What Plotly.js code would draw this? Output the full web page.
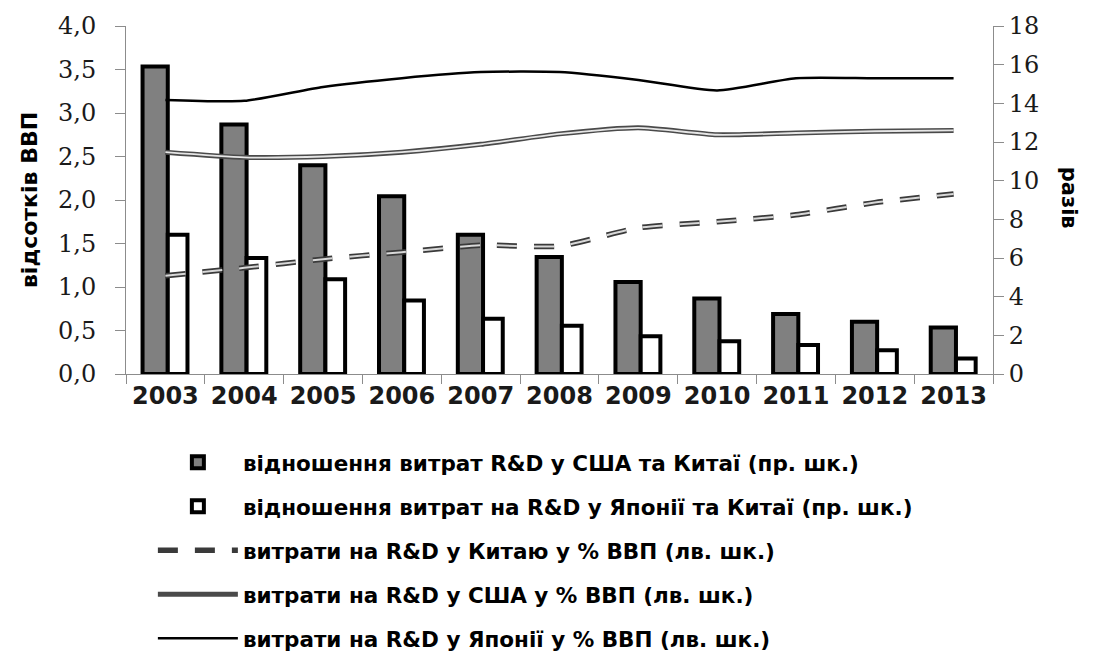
<!DOCTYPE html>
<html>
<head>
<meta charset="utf-8">
<script src="https://cdn.plot.ly/plotly-3.0.1.min.js"></script>
<style>
  html, body { margin: 0; padding: 0; background: #ffffff; }
  #chart { width: 1099px; height: 658px; }
</style>
</head>
<body>
<div id="chart"></div>
<script>
// ---- data ----
const years = ["2003","2004","2005","2006","2007","2008","2009","2010","2011","2012","2013"];

// ratios (right axis, "разів")
const ratioUsChina    = [15.9, 12.9, 10.8, 9.2, 7.2, 6.05, 4.76, 3.9, 3.1, 2.7, 2.4];
const ratioJapanChina = [7.2, 6.0, 4.9, 3.8, 2.86, 2.5, 1.95, 1.7, 1.5, 1.23, 0.8];

// R&D spending, % of GDP (left axis)
const rdChina = [1.13, 1.22, 1.32, 1.40, 1.48, 1.47, 1.68, 1.75, 1.83, 1.97, 2.07];
const rdUsa   = [2.55, 2.49, 2.50, 2.55, 2.64, 2.76, 2.83, 2.75, 2.77, 2.79, 2.80];
const rdJapan = [3.15, 3.14, 3.30, 3.40, 3.47, 3.47, 3.38, 3.26, 3.40, 3.40, 3.40];

// labels
const names = {
  usChina:    "відношення витрат R&D у США та Китаї (пр. шк.)",
  japanChina: "відношення витрат на R&D у Японії та Китаї (пр. шк.)",
  china:      "витрати на R&D у Китаю у % ВВП (лв. шк.)",
  usa:        "витрати на R&D у США у % ВВП (лв. шк.)",
  japan:      "витрати на R&D у Японії у % ВВП (лв. шк.)"
};
const leftTitle  = "відсотків ВВП";
const rightTitle = "разів";

// ---- traces ----
const traces = [
  {
    type: "bar", x: years, y: ratioUsChina, yaxis: "y", name: names.usChina,
    width: 0.32, offset: -0.29,
    marker: { color: "#808080", line: { color: "#000000", width: 4 } },
    legendgroup: "g1", legendrank: 1
  },
  {
    type: "bar", x: years, y: ratioJapanChina, yaxis: "y", name: names.japanChina,
    width: 0.25, offset: 0.03,
    marker: { color: "#ffffff", line: { color: "#000000", width: 4 } },
    legendgroup: "g2", legendrank: 2
  },
  {
    type: "scatter", mode: "lines", x: years, y: rdChina, yaxis: "y2", name: names.china,
    line: { color: "#3a3a3a", width: 5.5, dash: "20px,17px", shape: "spline", smoothing: 0.6 },
    legendgroup: "g3", legendrank: 3
  },
  {
    type: "scatter", mode: "lines", x: years, y: rdChina, yaxis: "y2", showlegend: false,
    line: { color: "#d8d8d8", width: 2, dash: "20px,17px", shape: "spline", smoothing: 0.6 },
    legendgroup: "g3", hoverinfo: "skip"
  },
  {
    type: "scatter", mode: "lines", x: years, y: rdUsa, yaxis: "y2", name: names.usa,
    line: { color: "#4a4a4a", width: 5, shape: "spline", smoothing: 0.6 },
    legendgroup: "g4", legendrank: 4
  },
  {
    type: "scatter", mode: "lines", x: years, y: rdUsa, yaxis: "y2", showlegend: false,
    line: { color: "#e6e6e6", width: 1.8, shape: "spline", smoothing: 0.6 },
    legendgroup: "g4", hoverinfo: "skip"
  },
  {
    type: "scatter", mode: "lines", x: years, y: rdJapan, yaxis: "y2", name: names.japan,
    line: { color: "#000000", width: 2.5, shape: "spline", smoothing: 0.6 },
    legendgroup: "g5", legendrank: 5
  }
];

const axisColor = "#8c8c8c";
const numFont = { family: "DejaVu Serif, Liberation Serif, serif", size: 24, color: "#1a1a1a" };
const boldSans = "DejaVu Sans, Verdana, sans-serif";

const layout = {
  width: 1099, height: 658,
  margin: { l: 126, r: 106, t: 26, b: 284, autoexpand: false },
  paper_bgcolor: "#ffffff", plot_bgcolor: "#ffffff",
  separators: ", ",
  barmode: "overlay",
  showlegend: true,
  xaxis: {
    type: "category", categoryorder: "array", categoryarray: years,
    range: [-0.5, 10.5],
    showline: true, linecolor: axisColor, linewidth: 1,
    ticks: "outside", tickson: "boundaries", ticklen: 9, tickcolor: axisColor,
    showgrid: false, zeroline: false,
    tickfont: { family: boldSans, size: 24, weight: "bold", color: "#1a1a1a" }
  },
  yaxis: {
    side: "right", range: [0, 18], dtick: 2, tick0: 0,
    showline: true, linecolor: axisColor, linewidth: 1,
    ticks: "outside", ticklen: 10, tickcolor: axisColor,
    showgrid: false, zeroline: false,
    tickfont: numFont
  },
  yaxis2: {
    overlaying: "y", side: "left", range: [0, 4], dtick: 0.5, tick0: 0,
    tickformat: ".1f",
    showline: true, linecolor: axisColor, linewidth: 1,
    ticks: "outside", ticklen: 10, tickcolor: axisColor,
    ticklabelstandoff: 14,
    showgrid: false, zeroline: false,
    tickfont: numFont,
    title: { text: leftTitle, standoff: 14,
             font: { family: boldSans, size: 22, weight: "bold", color: "#000000" } }
  },
  legend: {
    x: 0.031, xanchor: "left", y: -0.195, yanchor: "top",
    orientation: "v", traceorder: "grouped", tracegroupgap: 13,
    itemwidth: 80,
    bgcolor: "rgba(0,0,0,0)",
    font: { family: boldSans, size: 21.5, weight: "bold", color: "#000000" }
  },
  annotations: [
    {
      text: rightTitle, xref: "paper", yref: "paper", x: 1.104, y: 0.506,
      showarrow: false, textangle: 90,
      font: { family: boldSans, size: 21, weight: "bold", color: "#000000" }
    }
  ]
};

Plotly.newPlot("chart", traces, layout, { displayModeBar: false, staticPlot: true });
</script>
</body>
</html>
